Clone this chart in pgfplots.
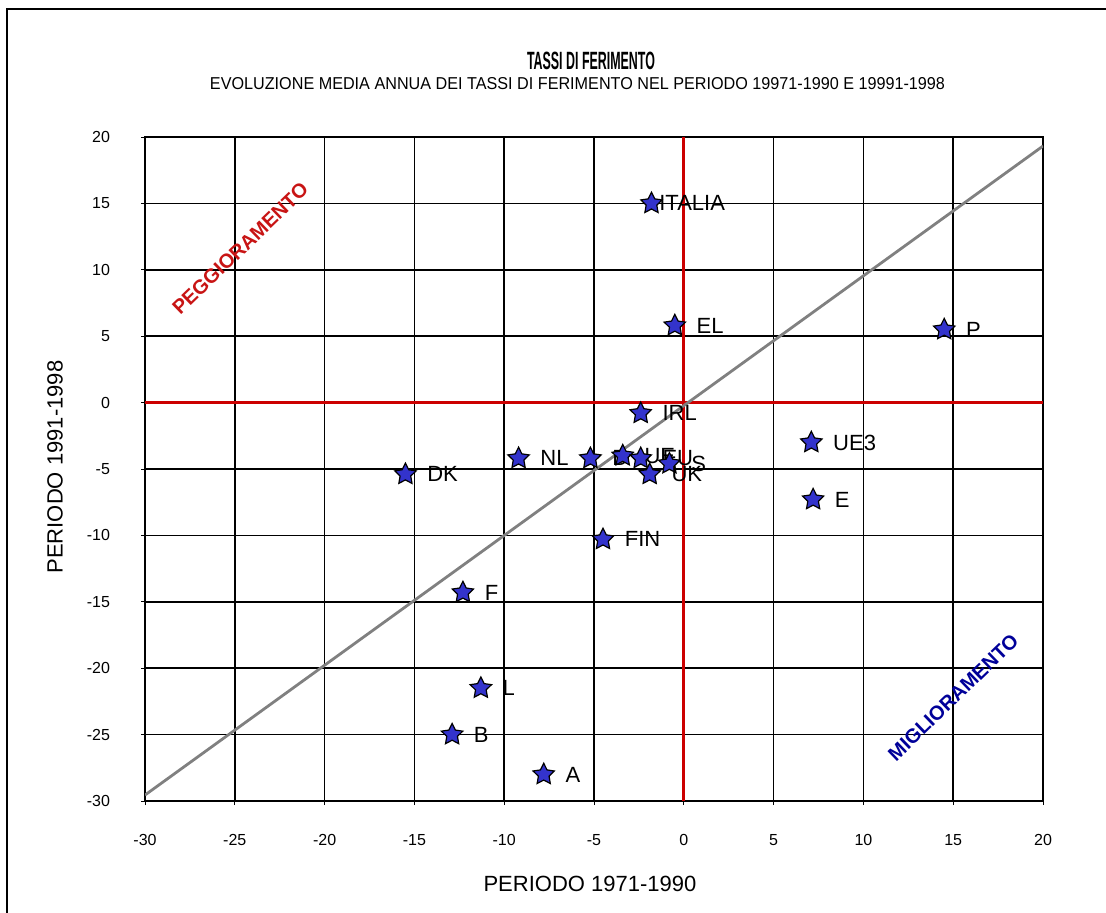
\documentclass[border=0pt]{standalone}
\usepackage{fontspec}
\setmainfont{Liberation Sans}
\usepackage{graphicx}
\usepackage{pgfplots}
\pgfplotsset{compat=1.18}

\definecolor{redline}{RGB}{204,0,0}
\definecolor{starfill}{RGB}{51,51,204}
\definecolor{peg}{RGB}{200,20,20}
\definecolor{mig}{RGB}{0,0,153}
\definecolor{diag}{RGB}{128,128,128}

\pgfdeclareplotmark{fstar}{%
  \pgfpathmoveto{\pgfpointpolar{90}{\pgfplotmarksize}}%
  \pgfpathlineto{\pgfpointpolar{126}{0.5\pgfplotmarksize}}%
  \pgfpathlineto{\pgfpointpolar{162}{\pgfplotmarksize}}%
  \pgfpathlineto{\pgfpointpolar{198}{0.5\pgfplotmarksize}}%
  \pgfpathlineto{\pgfpointpolar{234}{\pgfplotmarksize}}%
  \pgfpathlineto{\pgfpointpolar{270}{0.5\pgfplotmarksize}}%
  \pgfpathlineto{\pgfpointpolar{306}{\pgfplotmarksize}}%
  \pgfpathlineto{\pgfpointpolar{342}{0.5\pgfplotmarksize}}%
  \pgfpathlineto{\pgfpointpolar{18}{\pgfplotmarksize}}%
  \pgfpathlineto{\pgfpointpolar{54}{0.5\pgfplotmarksize}}%
  \pgfpathclose
  \pgfusepathqfillstroke}

\pgfplotstableread{
x y label
-0.5 5.8 EL
14.5 5.5 P
-2.4 -0.8 IRL
7.1 -3.0 UE3
-9.2 -4.2 NL
-5.2 -4.2 D
-3.4 -4.0 UE
-2.4 -4.2 EU
-0.8 -4.6 S
-1.9 -5.4 UK
-15.5 -5.4 DK
7.2 -7.3 E
-4.5 -10.3 FIN
-12.3 -14.3 F
-11.3 -21.5 L
-12.9 -25.0 B
-7.8 -28.0 A
}\pts

\pgfplotstableread{
x y label
-1.8 15.0 ITALIA
}\ita

\begin{document}
\begin{tikzpicture}[x=1pt,y=1pt]
\clip (0,0) rectangle (553,456);
\draw[line width=1pt] (3.5,-20) rectangle (600,451.5);
\begin{axis}[
  at={(72.5pt,55.5pt)}, anchor=south west,
  scale only axis, width=449pt, height=332pt,
  xmin=-30, xmax=20, ymin=-30, ymax=20,
  xtick={-30,-25,...,20}, ytick={-30,-25,...,20},
  xtick pos=bottom, ytick pos=left,
  grid=major, major grid style={black, line width=0.75pt},
  axis line style={black, line width=1.2pt},
  tick style={black, line width=0.5pt}, tick align=outside, major tick length=2pt,
  ticklabel style={font=\fontsize{8}{9}\selectfont},
  /pgf/number format/assume math mode=true,
  yticklabel style={xshift=-12pt},
  xticklabel style={yshift=-11pt},
  xlabel={PERIODO 1971-1990}, ylabel={PERIODO 1991-1998},
  label style={font=\fontsize{11}{13}\selectfont},
  xlabel style={at={(axis description cs:0.4955,-0.125)}, anchor=center},
  ylabel style={at={(axis description cs:-0.1002,0.503)}, anchor=center},
  clip=true,
]
\addplot[redline, line width=1.5pt] coordinates {(0,-30) (0,20)};
\addplot[redline, line width=1.5pt] coordinates {(-30,0) (20,0)};
\addplot[diag, line width=1.4pt] coordinates {(-30,-29.55) (20,19.32)};
\addplot[only marks, mark=fstar, mark size=5.6pt,
  mark options={fill=starfill, draw=black, line width=0.6pt},
  nodes near coords, point meta=explicit symbolic,
  nodes near coords style={anchor=west, xshift=7.3pt, font=\fontsize{11}{13}\selectfont, text=black}]
  table[meta=label] {\pts};
\addplot[only marks, mark=fstar, mark size=5.6pt,
  mark options={fill=starfill, draw=black, line width=0.6pt},
  nodes near coords, point meta=explicit symbolic,
  nodes near coords style={anchor=west, xshift=0.3pt, font=\fontsize{11}{13}\selectfont, text=black}]
  table[meta=label] {\ita};
\node[rotate=44, text=peg, font=\bfseries\fontsize{10}{12}\selectfont] at (axis cs:-24.7,11.6) {PEGGIORAMENTO};
\node[rotate=44, text=mig, font=\bfseries\fontsize{10}{12}\selectfont] at (axis cs:15.0,-22.2) {MIGLIORAMENTO};
\end{axis}
\node at (295.5,425.5) {\resizebox{64pt}{\height}{\bfseries\fontsize{12.5}{14}\selectfont TASSI DI FERIMENTO}};
\node at (288.75,414) {\resizebox{367.5pt}{\height}{\fontsize{8.6}{10}\selectfont EVOLUZIONE MEDIA ANNUA DEI TASSI DI FERIMENTO NEL PERIODO 19971-1990 E 19991-1998}};
\end{tikzpicture}
\end{document}
